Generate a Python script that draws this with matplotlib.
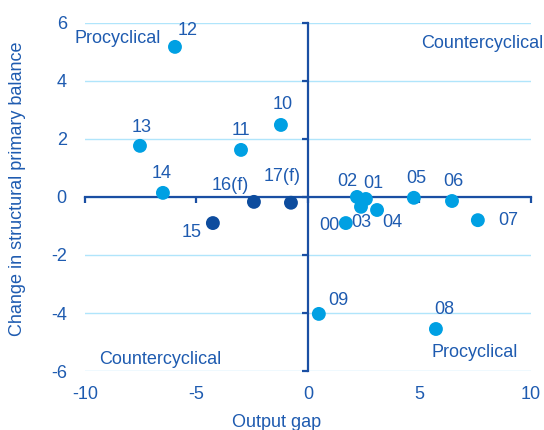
import matplotlib
matplotlib.use("Agg")
import matplotlib.pyplot as plt

plt.rcParams['font.family'] = ['Liberation Sans', 'DejaVu Sans']
plt.rcParams['axes.unicode_minus'] = False

# Data
years = ["00", "01", "02", "03", "04", "05", "06", "07", "08", "09",
         "10", "11", "12", "13", "14", "15", "16(f)", "17(f)"]
output_gap = [1.70, 2.60, 2.20, 2.38, 3.10, 4.75, 6.46, 7.62, 5.74, 0.49,
              -1.21, -3.00, -5.96, -7.53, -6.50, -4.26, -2.42, -0.76]
change_spb = [-0.90, -0.07, 0.00, -0.34, -0.45, -0.03, -0.14, -0.80, -4.55, -4.03,
              2.48, 1.62, 5.17, 1.76, 0.14, -0.90, -0.17, -0.20]
forecast = [False]*15 + [True, True, True]
# label offsets (points)
offsets = [(-12, -2), (5, 11), (-7, 11), (0, -11), (11, -9), (2, 14), (1, 14), (22, 0), (6, 14), (14, 10),
           (1, 15), (0, 14), (9, 12), (1, 13), (-1, 14), (-15, -7), (-17, 12), (-6, 19)]
xticks = [-10, -5, 0, 5, 10]
yticks = [-6, -4, -2, 0, 2, 4, 6]

light = "#00A0E3"
dark = "#0D4C9E"
axis_col = "#1A4FA3"
text_col = "#1E5BB0"
grid_col = "#B0E5FB"
fs = 13

fig = plt.figure(figsize=(5.44, 4.30), dpi=100)
ax = fig.add_axes([0.156, 0.137, 0.82, 0.81])
ax.set_xlim(-10, 10)
ax.set_ylim(-6, 6)

for y in yticks:
    ax.axhline(y, color=grid_col, lw=1.0, zorder=0)

for s in ['top', 'right']:
    ax.spines[s].set_visible(False)
ax.spines['left'].set_position(('data', 0))
ax.spines['bottom'].set_position(('data', 0))
for s in ['left', 'bottom']:
    ax.spines[s].set_color(axis_col)
    ax.spines[s].set_linewidth(1.6)
    ax.spines[s].set_zorder(1)
ax.set_xticks(xticks)
ax.set_yticks(yticks)
ax.tick_params(direction='out', length=4, width=1.6, color=axis_col,
               labelleft=False, labelbottom=False)

secy = ax.secondary_yaxis(0.0)
secy.set_yticks(yticks)
secy.spines['left'].set_visible(False)
secy.tick_params(length=0, pad=13, labelsize=fs, labelcolor=text_col)
secx = ax.secondary_xaxis(0.0)
secx.set_xticks(xticks)
secx.spines['bottom'].set_visible(False)
secx.tick_params(length=0, pad=11, labelsize=fs, labelcolor=text_col)

colors = [dark if f else light for f in forecast]
ax.scatter(output_gap, change_spb, s=100, c=colors, edgecolors='none', zorder=3, clip_on=False)

for lab, x, y, off in zip(years, output_gap, change_spb, offsets):
    ax.annotate(lab, (x, y), xytext=off, textcoords='offset points',
                ha='center', va='center', fontsize=fs, color=text_col, zorder=4)

ax.text(-8.55, 5.45, "Procyclical", fontsize=fs, color=text_col, ha='center', va='center')
ax.text(7.8, 5.3, "Countercyclical", fontsize=fs, color=text_col, ha='center', va='center', clip_on=False)
ax.text(-6.6, -5.6, "Countercyclical", fontsize=fs, color=text_col, ha='center', va='center')
ax.text(7.5, -5.35, "Procyclical", fontsize=fs, color=text_col, ha='center', va='center')

fig.text(0.508, 0.018, "Output gap", fontsize=fs, color=text_col, ha='center', va='center')
fig.text(0.033, 0.562, "Change in structural primary balance", fontsize=fs, color=text_col,
         ha='center', va='center', rotation=90)

fig.savefig("out.png", dpi=100)
